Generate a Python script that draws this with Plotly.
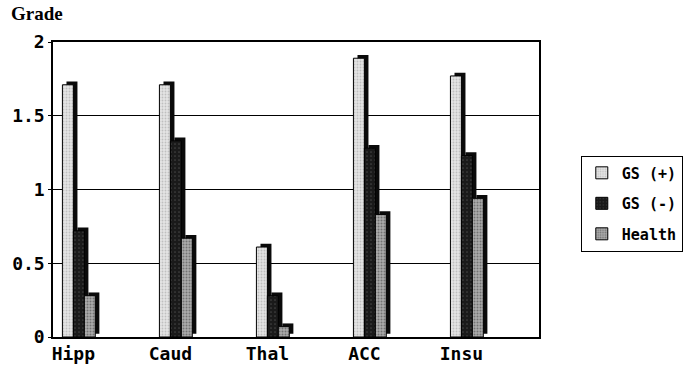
import plotly.graph_objects as go

categories = ["Hipp", "Caud", "Thal", "ACC", "Insu"]
gs_pos = [1.71, 1.71, 0.61, 1.89, 1.77]
gs_neg = [0.72, 1.33, 0.28, 1.28, 1.23]
health = [0.28, 0.67, 0.07, 0.83, 0.94]
series_names = ["GS (+)", "GS (-)", "Health"]
y_ticks = [0, 0.5, 1, 1.5, 2]
y_tick_text = ["0", "0.5", "1", "1.5", "2"]

series = [gs_pos, gs_neg, health]
fills = [
    dict(color="#e4e4e4", fg="#9a9a9a", sol=0.3, size=3),
    dict(color="#1a1a1a", fg="#6a6a6a", sol=0.15, size=4),
    dict(color="#ababab", fg="#3a3a3a", sol=0.35, size=3),
]

bar_w = 0.113
start = -0.113
dx = 0.042   # depth offset (x, category units)
dy = 0.022   # depth offset (y, value units)

MONO = "DejaVu Sans Mono"

fig = go.Figure()
for i, (vals, name, f) in enumerate(zip(series, series_names, fills)):
    off = start + i * bar_w
    # dark side (3D depth)
    fig.add_trace(go.Bar(
        x=categories, y=vals, base=dy, offset=off + dx, width=bar_w,
        marker=dict(color="#0a0a0a", line=dict(width=0)),
        showlegend=False, hoverinfo="skip", legendgroup=name,
    ))
    # front face
    fig.add_trace(go.Bar(
        x=categories, y=vals, offset=off, width=bar_w, name=name,
        legendgroup=name,
        marker=dict(color=f["color"], line=dict(color="black", width=1),
                    pattern=dict(shape=".", fgcolor=f["fg"], bgcolor=f["color"],
                                 solidity=f["sol"], size=f["size"])),
    ))

fig.update_layout(
    width=683, height=374,
    margin=dict(l=53, r=144, t=42, b=37, autoexpand=False),
    paper_bgcolor="white", plot_bgcolor="white",
    barmode="overlay",
    font=dict(family=MONO, size=18, color="black", weight="bold"),
    showlegend=True,
    legend=dict(
        x=1.086, y=0.615, xanchor="left", yanchor="top",
        bordercolor="black", borderwidth=1, bgcolor="white",
        font=dict(family=MONO, size=15, color="black", weight="bold"),
        traceorder="grouped", tracegroupgap=8,
        itemwidth=30,
    ),
    xaxis=dict(
        type="category", range=[-0.21, 4.8],
        showline=True, linecolor="black", linewidth=1.5, mirror=True,
        showgrid=False, ticks="", tickfont=dict(family=MONO, size=18, weight="bold"),
    ),
    yaxis=dict(
        range=[0, 2], tickvals=y_ticks, ticktext=y_tick_text,
        showline=True, linecolor="black", linewidth=1.5, mirror=True,
        showgrid=True, gridcolor="black", gridwidth=1,
        ticks="outside", ticklen=3, tickcolor="black",
        tickfont=dict(family=MONO, size=18, weight="bold"), zeroline=False,
    ),
    annotations=[dict(
        text="<b>Grade</b>", xref="paper", yref="paper",
        x=-0.09, y=1.095, xanchor="left", yanchor="middle",
        showarrow=False, font=dict(family="Liberation Serif", size=19, color="black"),
    )],
)

fig.write_html("out.html")
